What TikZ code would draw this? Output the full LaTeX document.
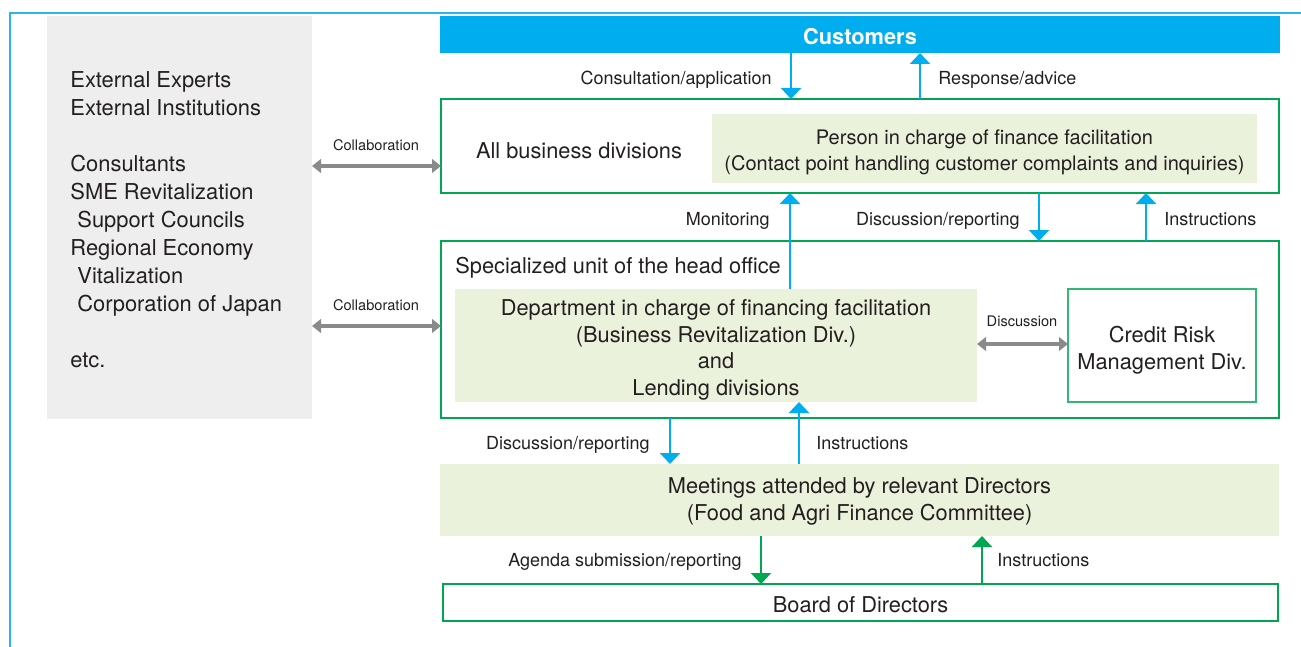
\documentclass[tikz,border=0pt]{standalone}
\usepackage{fontspec}
\setmainfont{TeX Gyre Heros}
\usetikzlibrary{arrows.meta}
\definecolor{cblue}{HTML}{00AEEF}
\definecolor{fblue}{HTML}{29B6E8}
\definecolor{cgreen}{HTML}{00A651}
\definecolor{lgreen}{HTML}{EBF2DC}
\definecolor{lgray}{HTML}{EDEEED}
\definecolor{agray}{HTML}{8A8A8A}
\definecolor{txt}{HTML}{231F20}
\tikzset{
  main/.style={font=\fontsize{10.9}{13.3}\selectfont, text=txt, inner sep=0pt},
  lbl/.style={font=\fontsize{9}{11}\selectfont, text=txt, inner sep=0pt},
  slbl/.style={font=\fontsize{7.3}{9}\selectfont, text=txt, inner sep=0pt},
  gbox/.style={draw=cgreen, line width=1pt, inner sep=0pt, outer sep=0pt},
  fbox/.style={fill=lgreen, inner sep=0pt, outer sep=0pt},
  barrow/.style={draw=cblue, line width=1.15pt, -{Triangle[width=10pt,length=5.5pt]}},
  garrow/.style={draw=cgreen, line width=1.15pt, -{Triangle[width=10pt,length=5.5pt]}},
  darrow/.style={draw=agray, line width=2pt, {Triangle[width=6.8pt,length=4.5pt]}-{Triangle[width=6.8pt,length=4.5pt]}}
}
\begin{document}
\begin{tikzpicture}[x=0.5pt,y=-0.5pt]
\useasboundingbox (0,0) rectangle (1301,647);
\draw[fblue, line width=1pt] (1301,13) -- (10,13) -- (10,647);

% left external box
\node[fill=lgray, inner sep=0pt, outer sep=0pt, minimum width=132.5pt, minimum height=201.5pt] (ext) at (179.5,217.5) {};
\node[anchor=west, align=left, text=txt, inner sep=0pt, font=\fontsize{10.95}{14}\selectfont] (exttxt) at (70,219.5)
  {External Experts\\External Institutions\\[14pt]Consultants\\SME Revitalization\\\hspace*{3.5pt}Support Councils\\Regional Economy\\\hspace*{3.5pt}Vitalization\\\hspace*{3.5pt}Corporation of Japan\\[14pt]etc.};

% customers
\node[fill=cblue, inner sep=0pt, outer sep=0pt, minimum width=420pt, minimum height=18.5pt] (cust) at (860,34.5) {};
\node[anchor=base, text=white, inner sep=0pt, font=\fontsize{10.9}{13.3}\selectfont\bfseries] (custtxt) at (860,45) {Customers};

% all business divisions
\node[gbox, minimum width=419pt, minimum height=47pt] (abd) at (860,146) {};
\node[main, anchor=base] (abdtxt) at (579,158) {All business divisions};
\node[fbox, minimum width=272.5pt, minimum height=34.5pt] (pic) at (984.5,148.5) {};
\node[align=center, text=txt, inner sep=0pt, font=\fontsize{10}{13}\selectfont] (pictxt) at (984.5,152)
  {Person in charge of finance facilitation\\(Contact point handling customer complaints and inquiries)};

% specialized unit
\node[gbox, minimum width=419pt, minimum height=88.5pt] (spec) at (860,329.5) {};
\node[main, anchor=base west] (spectxt) at (455,273) {Specialized unit of the head office};
\node[fbox, minimum width=261pt, minimum height=56.5pt] (dept) at (716,345.5) {};
\node[main, align=center] (depttxt) at (716,350)
  {Department in charge of financing facilitation\\(Business Revitalization Div.)\\and\\Lending divisions};
\node[draw=cgreen!80, line width=0.8pt, fill=white, inner sep=0pt, outer sep=0pt, minimum width=94pt, minimum height=56.5pt] (crm) at (1162,345.5) {};
\node[main, align=center] (crmtxt) at (1162,350.5) {Credit Risk\\Management Div.};

% meetings
\node[fbox, minimum width=419.5pt, minimum height=36pt] (meet) at (859.5,500) {};
\node[align=center, text=txt, inner sep=0pt, font=\fontsize{10.9}{13.5}\selectfont] (meettxt) at (859.5,501.5)
  {Meetings attended by relevant Directors\\(Food and Agri Finance Committee)};

% board
\node[gbox, minimum width=417.5pt, minimum height=18.5pt] (board) at (860.5,602.5) {};
\node[main, anchor=base] (boardtxt) at (860.5,612) {Board of Directors};

% arrows
\draw[barrow] (791,0 |- cust.south) -- (791,0 |- abd.north);
\draw[barrow] (920,0 |- abd.north) -- (920,0 |- cust.south);
\draw[barrow] (790,0 |- dept.north) -- (790,0 |- abd.south);
\draw[barrow] (1039,0 |- abd.south) -- (1039,0 |- spec.north);
\draw[barrow] (1146,0 |- spec.north) -- (1146,0 |- abd.south);
\draw[barrow] (670,0 |- spec.south) -- (670,0 |- meet.north);
\draw[barrow] (799,0 |- meet.north) -- (799,0 |- dept.south);
\draw[garrow] (761,0 |- meet.south) -- (761,0 |- board.north);
\draw[garrow] (982,0 |- board.north) -- (982,0 |- meet.south);
\draw[darrow] (ext.east |- 0,166) -- (abd.west |- 0,166);
\draw[darrow] (ext.east |- 0,326) -- (spec.west |- 0,326);
\draw[darrow] (dept.east |- 0,344) -- (crm.west |- 0,344);

% labels
\node[lbl, anchor=base east] (l1) at (772,84.5) {Consultation/application};
\node[lbl, anchor=base west] (l2) at (938,84.5) {Response/advice};
\node[lbl, anchor=base east] (l3) at (770,225.5) {Monitoring};
\node[lbl, anchor=base east] (l4) at (1020,225.5) {Discussion/reporting};
\node[lbl, anchor=base west] (l5) at (1164,225.5) {Instructions};
\node[lbl, anchor=base east] (l6) at (650,449.5) {Discussion/reporting};
\node[lbl, anchor=base west] (l7) at (816,449.5) {Instructions};
\node[lbl, anchor=base east] (l8) at (742,566.5) {Agenda submission/reporting};
\node[lbl, anchor=base west] (l9) at (997,566.5) {Instructions};
\node[slbl] (l10) at (376,145) {Collaboration};
\node[slbl] (l11) at (376,305) {Collaboration};
\node[slbl] (l12) at (1022,321) {Discussion};
\end{tikzpicture}
\end{document}
